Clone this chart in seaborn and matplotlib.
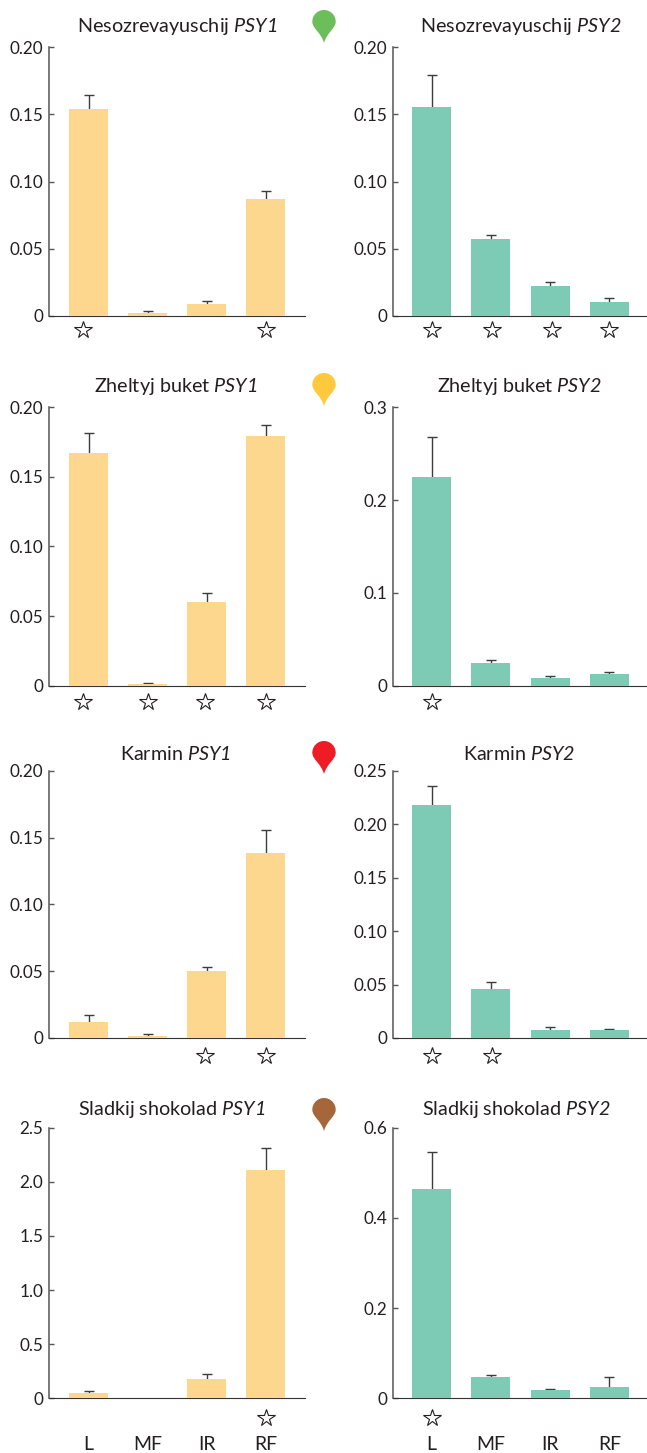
import matplotlib
matplotlib.use('Agg')
import matplotlib.pyplot as plt
import seaborn as sns
from matplotlib.path import Path
from matplotlib.patches import PathPatch
from matplotlib.transforms import blended_transform_factory

W, H = 647, 1453

sns.set_theme(style='white')
plt.rcParams['font.family'] = ['Lato', 'DejaVu Sans']
plt.rcParams['mathtext.fontset'] = 'custom'
# цифры в PSY1 тоже курсивом
plt.rcParams['mathtext.rm'] = 'Lato:italic'
plt.rcParams['mathtext.it'] = 'Lato:italic'
plt.rcParams['text.color'] = '#231f20'

categories = ['L', 'MF', 'IR', 'RF']

# значения
neso1 = [0.1537, 0.0022, 0.0089, 0.0869]
neso1_top = [0.1646, 0.0035, 0.0114, 0.0928]
neso2 = [0.1552, 0.0572, 0.0223, 0.0104]
neso2_top = [0.1790, 0.0599, 0.0252, 0.0131]
zhelt1 = [0.1672, 0.0010, 0.0601, 0.1794]
zhelt1_top = [0.1816, 0.0019, 0.0663, 0.1875]
zhelt2 = [0.2249, 0.0244, 0.0083, 0.0126]
zhelt2_top = [0.2684, 0.0277, 0.0101, 0.0144]
karm1 = [0.0120, 0.0015, 0.0501, 0.1384]
karm1_top = [0.0175, 0.0032, 0.0534, 0.1559]
karm2 = [0.2179, 0.0458, 0.0075, 0.0075]
karm2_top = [0.2357, 0.0527, 0.0100, 0.0087]
slad1 = [0.049, 0, 0.179, 2.109]
slad1_top = [0.065, None, 0.222, 2.312]
slad2 = [0.464, 0.0473, 0.0185, 0.0251]
slad2_top = [0.5453, 0.0525, 0.0214, 0.0466]

# звёздочки
neso1_stars = [1, 0, 0, 1]
neso2_stars = [1, 1, 1, 1]
zhelt1_stars = [1, 1, 1, 1]
zhelt2_stars = [1, 0, 0, 0]
karm1_stars = [0, 0, 1, 1]
karm2_stars = [1, 1, 0, 0]
slad1_stars = [0, 0, 0, 1]
slad2_stars = [1, 0, 0, 0]

ticks_02 = [0, 0.05, 0.10, 0.15, 0.20]
labels_02 = ['0', '0.05', '0.10', '0.15', '0.20']
ticks_03 = [0, 0.1, 0.2, 0.3]
labels_03 = ['0', '0.1', '0.2', '0.3']
ticks_025 = [0, 0.05, 0.10, 0.15, 0.20, 0.25]
labels_025 = ['0', '0.05', '0.10', '0.15', '0.20', '0.25']
ticks_25 = [0, 0.5, 1.0, 1.5, 2.0, 2.5]
labels_25 = ['0', '0.5', '1.0', '1.5', '2.0', '2.5']
ticks_06 = [0, 0.2, 0.4, 0.6]
labels_06 = ['0', '0.2', '0.4', '0.6']

YELLOW = '#fdd78e'
TEAL = '#7dcbb5'
DARK = '#3c3c3c'

# название, значения, верх ошибки, звёзды, тики, подписи, центр заголовка
panels = [
    ('Nesozrevayuschij', 'PSY1', neso1, neso1_top, neso1_stars, ticks_02, labels_02, 177, 47, 316, 32),
    ('Nesozrevayuschij', 'PSY2', neso2, neso2_top, neso2_stars, ticks_02, labels_02, 521, 47, 316, 32),
    ('Zheltyj buket', 'PSY1', zhelt1, zhelt1_top, zhelt1_stars, ticks_02, labels_02, 176, 407.3, 685.7, 392),
    ('Zheltyj buket', 'PSY2', zhelt2, zhelt2_top, zhelt2_stars, ticks_03, labels_03, 519, 407.3, 685.7, 392),
    ('Karmin', 'PSY1', karm1, karm1_top, karm1_stars, ticks_02, labels_02, 175, 770.7, 1038, 760),
    ('Karmin', 'PSY2', karm2, karm2_top, karm2_stars, ticks_025, labels_025, 519, 770.7, 1038, 760),
    ('Sladkij shokolad', 'PSY1', slad1, slad1_top, slad1_stars, ticks_25, labels_25, 172, 1127.7, 1398.3, 1115),
    ('Sladkij shokolad', 'PSY2', slad2, slad2_top, slad2_stars, ticks_06, labels_06, 516, 1127.7, 1398.3, 1115),
]

pins = [('#6cbe5a', 10), ('#ffc83d', 373), ('#ee1c25', 741), ('#a5673a', 1098)]

# отступ звёзд от оси по рядам
star_gap = [14, 16, 17.5, 19.5]

# левая/правая колонка: спина x0, x1, центр первого столбца, шаг, сдвиг звёзд
columns = [
    (49, 305, 88.5, 59.0, [-5.5, 0, -1.5, 0]),
    (393, 647, 431.5, 59.3, [0, 1, 2, 0]),
]


def draw_panel(fig, i, panel):
    name, gene, vals, tops, stars, ticks, labels, cx, y0, y1, base = panel
    x0, x1, first, step, shift = columns[i % 2]
    ax = fig.add_axes([x0 / W, 1 - y1 / H, (x1 - x0) / W, (y1 - y0) / H])
    sns.barplot(x=categories, y=vals, color=YELLOW if i % 2 == 0 else TEAL, saturation=1,
                width=0.66, linewidth=0, ax=ax, zorder=3)
    for k in range(4):
        if tops[k] is not None:
            ax.errorbar(k, vals[k], yerr=tops[k] - vals[k], color=DARK, elinewidth=1.0,
                        capsize=3.6, capthick=1.0, zorder=2)
    ax.set_xlim((x0 - first) / step, (x1 - first) / step)
    ax.set_ylim(0, ticks[-1])
    ax.set_yticks(ticks)
    ax.set_yticklabels(labels)
    ax.tick_params(axis='y', direction='in', length=3.8, width=1.0, color='#555555', left=True,
                   pad=4, labelsize=12.3, labelcolor='#231f20')
    ax.tick_params(axis='x', length=0, pad=27.5, labelsize=14, labelcolor='#231f20',
                   labelbottom=i >= 6)
    ax.set_xlabel('')
    ax.set_ylabel('')
    sns.despine(ax=ax)
    ax.spines['left'].set_linewidth(1.1)
    ax.spines['left'].set_color('#555555')
    ax.spines['bottom'].set_linewidth(0.8)
    ax.spines['bottom'].set_color('#333333')
    # звёзды под осью
    trans = blended_transform_factory(ax.transData, ax.transAxes)
    gap = star_gap[i // 2]
    for k in range(4):
        if stars[k]:
            ax.plot(k + shift[k] / step, -gap / (y1 - y0), marker='*', ms=13, mfc='white', mec='#231f20',
                    mew=0.8, transform=trans, clip_on=False, zorder=5)
    return name, gene, cx, base


def draw_pin(over, color, top):
    # капля: круг сверху, острие снизу
    cx, cy, r = 324, top + 11.7, 11.7
    k = 0.5523 * r
    verts = [(cx, cy - r),
             (cx + k, cy - r), (cx + r, cy - k), (cx + r, cy),
             (cx + r, cy + 7), (cx + 2.5, cy + 11), (cx, cy + 21.5),
             (cx - 2.5, cy + 11), (cx - r, cy + 7), (cx - r, cy),
             (cx - r, cy - k), (cx - k, cy - r), (cx, cy - r)]
    codes = [Path.MOVETO] + [Path.CURVE4] * 12
    over.add_patch(PathPatch(Path(verts, codes), fc=color, ec='none'))


def run():
    fig = plt.figure(figsize=(W / 100, H / 100), dpi=100, facecolor='white')
    over = fig.add_axes([0, 0, 1, 1], zorder=10)
    over.set_xlim(0, W)
    over.set_ylim(H, 0)
    over.axis('off')
    for i, panel in enumerate(panels):
        name, gene, cx, base = draw_panel(fig, i, panel)
        over.text(cx, base, name + ' $\\mathit{' + gene + '}$', ha='center', va='baseline', fontsize=14.2)
    for color, top in pins:
        draw_pin(over, color, top)
    fig.savefig('out.png', dpi=100)


run()
